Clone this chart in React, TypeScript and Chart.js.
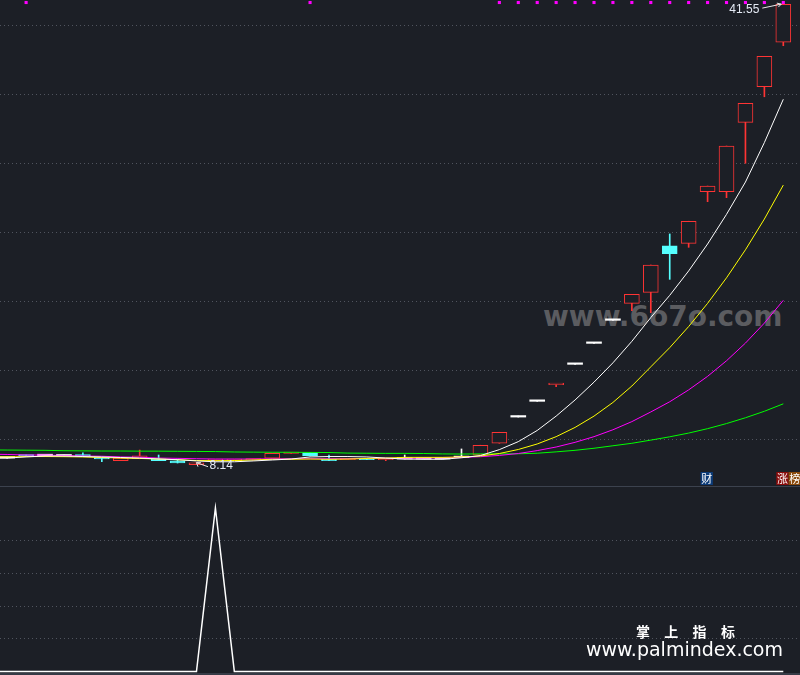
import React, { useEffect, useRef } from 'react';
import { Chart, registerables } from 'chart.js';

Chart.register(...registerables);

// ---------------- data ----------------
// bar position k (k = 0 is the session just left of the visible window)
const barIndex = [
  0, 1, 2, 3, 4, 5, 6, 7, 8, 9, 10, 11, 12, 13, 14, 15, 16, 17, 18, 19, 20,
  21, 22, 23, 24, 25, 26, 27, 28, 29, 30, 31, 32, 33, 34, 35, 36, 37, 38, 39, 40, 41, 42,
];
const openP = [
  8.65, 8.62, 8.84, 8.79, 8.77, 8.84, 8.62, 8.43, 8.57, 8.57, 8.41, 8.14, 8.44, 8.43, 8.48,
  8.62, 8.95, 9.01, 8.55, 8.5, 8.57, 8.5, 8.55, 8.55, 8.55, 8.65, 8.84, 9.69, 11.59, 12.73,
  13.94, 15.41, 16.93, 18.6, 19.83, 20.63, 23.99, 24.18, 27.92, 27.92, 32.95, 35.53, 38.75,
];
const highP = [
  8.66, 8.63, 8.84, 8.8, 8.78, 8.99, 8.62, 8.62, 9.2, 8.84, 8.55, 8.28, 8.48, 8.53, 8.55,
  8.96, 8.97, 9.01, 8.84, 8.57, 8.57, 8.57, 8.84, 8.55, 8.55, 9.28, 9.55, 10.49, 11.59, 12.73,
  13.97, 15.41, 16.93, 18.6, 20.49, 22.61, 24.86, 25.78, 28.33, 31.23, 34.33, 37.73, 41.55,
];
const lowP = [
  8.64, 8.61, 8.77, 8.78, 8.76, 8.77, 8.36, 8.43, 8.57, 8.43, 8.26, 8.14, 8.42, 8.43, 8.46,
  8.62, 8.95, 8.77, 8.43, 8.5, 8.5, 8.43, 8.55, 8.55, 8.55, 8.65, 8.84, 9.69, 11.59, 12.73,
  13.8, 15.41, 16.93, 18.6, 19.3, 19.15, 21.57, 23.89, 27.2, 27.49, 29.98, 34.8, 38.5,
];
const closeP = [
  8.65, 8.62, 8.77, 8.79, 8.77, 8.77, 8.55, 8.62, 8.79, 8.43, 8.26, 8.28, 8.46, 8.53, 8.55,
  8.96, 8.97, 8.77, 8.43, 8.57, 8.5, 8.57, 8.55, 8.55, 8.55, 8.65, 9.55, 10.49, 11.59, 12.73,
  13.97, 15.41, 16.93, 18.6, 20.49, 22.61, 23.43, 25.78, 28.33, 31.23, 34.33, 37.73, 41.5,
];
const ma5 = [
  8.62, 8.62, 8.7, 8.77, 8.77, 8.73, 8.7, 8.66, 8.62, 8.55, 8.5, 8.41, 8.35, 8.35, 8.41,
  8.48, 8.55, 8.7, 8.73, 8.73, 8.7, 8.62, 8.55, 8.53, 8.53, 8.64, 8.8, 9.23, 9.81, 10.62,
  11.66, 12.83, 14.12, 15.52, 17.08, 18.8, 20.41, 22.18, 24.13, 26.28, 28.62, 31.48, 34.62,
];
const ma10 = [
  8.7, 8.7, 8.73, 8.73, 8.72, 8.7, 8.66, 8.62, 8.59, 8.55, 8.5, 8.44, 8.43, 8.44, 8.48,
  8.53, 8.53, 8.55, 8.53, 8.55, 8.59, 8.62, 8.67, 8.67, 8.67, 8.7, 8.77, 8.95, 9.24, 9.64,
  10.17, 10.84, 11.66, 12.65, 13.84, 15.23, 16.62, 18.15, 19.83, 21.68, 23.71, 25.94, 28.4,
];
const ma20 = [
  8.9, 8.88, 8.84, 8.84, 8.8, 8.77, 8.75, 8.7, 8.68, 8.62, 8.6, 8.57, 8.55, 8.55, 8.55,
  8.57, 8.57, 8.57, 8.57, 8.57, 8.59, 8.59, 8.6, 8.62, 8.64, 8.67, 8.72, 8.81, 8.95, 9.16,
  9.42, 9.76, 10.17, 10.67, 11.26, 11.96, 12.7, 13.56, 14.54, 15.67, 16.95, 18.4, 20.05,
];
const ma60 = [
  9.21, 9.2, 9.19, 9.18, 9.15, 9.14, 9.13, 9.13, 9.12, 9.12, 9.11, 9.1, 9.09, 9.06, 9.05,
  9.04, 9.04, 9.03, 9.02, 8.98, 8.97, 8.96, 8.96, 8.95, 8.92, 8.91, 8.92, 8.92, 8.93, 8.97,
  9.07, 9.18, 9.33, 9.51, 9.69, 9.92, 10.16, 10.43, 10.75, 11.12, 11.54, 12.01, 12.55,
];
const signalBars = [2, 17, 27, 28, 29, 30, 31, 32, 33, 34, 35, 36, 37, 38, 39, 40, 41, 42];
const signalLevel = 41.63;
const indicatorValues = [
  0, 0, 0, 0, 0, 0, 0, 0, 0, 0, 0, 0, 100, 0, 0, 0, 0, 0, 0, 0, 0,
  0, 0, 0, 0, 0, 0, 0, 0, 0, 0, 0, 0, 0, 0, 0, 0, 0, 0, 0, 0, 0, 0,
];
const priceGridLevels = [10, 15, 20, 25, 30, 35, 40];
const indicatorGridLevels = [20, 40, 60, 80];
const eventBars = [38, 42];
const eventLabels = ['财', '涨榜'];

// ---------------- styles ----------------
const BG = '#1c1f26';
const RED = '#ff3434';
const CYAN = '#55ffff';
const WHITE = '#ffffff';
const GRID = '#50545e';
const X_MIN = 0.621;
const X_MAX = 42.882;
const EVENT_BG: Record<string, string> = { 财: '#0c3b78', 涨: '#8a0c0c', 榜: '#8a4a0c' };

const candleColor = closeP.map((c, k) => (c > openP[k] ? RED : c < openP[k] ? CYAN : WHITE));
const bodyFill = candleColor.map((c) => (c === RED ? BG : c));

const xy = (vals: number[]) => vals.map((v, k) => ({ x: barIndex[k], y: v }));

const zeroWidth = (s: any) => {
  s.width = 0;
};

const marksPlugin = {
  id: 'marks',
  afterDatasetsDraw(chart: any) {
    const { ctx, scales } = chart;
    const xs = scales.x;
    const ys = scales.y;
    let hiK = 1;
    let loK = 1;
    for (let k = 1; k < barIndex.length; k++) {
      if (highP[k] > highP[hiK]) hiK = k;
      if (lowP[k] < lowP[loK]) loK = k;
    }
    ctx.save();
    ctx.font = '12px "Liberation Sans", Arial, sans-serif';
    ctx.textBaseline = 'middle';
    ctx.lineWidth = 1;
    ctx.strokeStyle = '#e8e8e8';
    // highest price
    const hx = xs.getPixelForValue(barIndex[hiK]);
    const hy = ys.getPixelForValue(highP[hiK]);
    ctx.beginPath();
    ctx.moveTo(hx - 21, hy + 4.5);
    ctx.lineTo(hx - 2, hy + 0.5);
    ctx.moveTo(hx - 2, hy + 0.5);
    ctx.lineTo(hx - 6.5, hy - 0.5);
    ctx.moveTo(hx - 2, hy + 0.5);
    ctx.lineTo(hx - 5, hy + 3.5);
    ctx.stroke();
    ctx.fillStyle = '#e4eaf4';
    ctx.textAlign = 'right';
    ctx.fillText(highP[hiK].toFixed(2), hx - 24, hy + 6.5);
    // lowest price
    const lx = xs.getPixelForValue(barIndex[loK]);
    const ly = ys.getPixelForValue(lowP[loK]);
    ctx.beginPath();
    ctx.moveTo(lx + 11.5, ly + 2);
    ctx.lineTo(lx, ly - 2);
    ctx.moveTo(lx, ly - 2);
    ctx.lineTo(lx + 4.5, ly - 2);
    ctx.moveTo(lx, ly - 2);
    ctx.lineTo(lx + 1.5, ly + 2);
    ctx.stroke();
    ctx.textAlign = 'left';
    ctx.fillText(lowP[loK].toFixed(2), lx + 13, ly + 1.5);
    // event tags
    ctx.font = '11px "Noto Sans CJK SC", sans-serif';
    ctx.textAlign = 'center';
    eventBars.forEach((k, n) => {
      const cx = xs.getPixelForValue(barIndex[k]);
      const chars = Array.from(eventLabels[n]);
      chars.forEach((ch, j) => {
        const bx = cx - 7 + j * 12.3;
        ctx.fillStyle = EVENT_BG[ch] || '#0c3b78';
        ctx.fillRect(bx, 472, 12.3, 13);
        ctx.fillStyle = '#ffffff';
        ctx.fillText(ch, bx + 6.15, 478.8);
      });
    });
    ctx.restore();
  },
};

export default function App() {
  const mainRef = useRef<HTMLCanvasElement>(null);
  const subRef = useRef<HTMLCanvasElement>(null);

  useEffect(() => {
    const gridY = (min: number, max: number, levels: number[]) => ({
      min,
      max,
      position: 'left' as const,
      afterFit: zeroWidth,
      afterBuildTicks: (s: any) => {
        s.ticks = levels.map((v) => ({ value: v }));
      },
      ticks: { display: false },
      grid: { color: GRID, lineWidth: 1, drawTicks: false },
      border: { display: false, dash: [1, 3] },
    });
    const xScale = { type: 'linear' as const, min: X_MIN, max: X_MAX, display: false, offset: false };

    const main = new Chart(mainRef.current as HTMLCanvasElement, {
      type: 'bar',
      data: {
        datasets: [
          { type: 'line', label: 'MA5', data: xy(ma5), borderColor: '#ffffff', borderWidth: 1, pointRadius: 0, tension: 0, order: 0 },
          { type: 'line', label: 'MA10', data: xy(ma10), borderColor: '#ffff00', borderWidth: 1, pointRadius: 0, tension: 0, order: 0 },
          { type: 'line', label: 'MA20', data: xy(ma20), borderColor: '#ff00ff', borderWidth: 1, pointRadius: 0, tension: 0, order: 0 },
          { type: 'line', label: 'MA60', data: xy(ma60), borderColor: '#00ff00', borderWidth: 1, pointRadius: 0, tension: 0, order: 0 },
          {
            type: 'line',
            label: 'signal',
            data: signalBars.map((k) => ({ x: k, y: signalLevel })),
            showLine: false,
            pointStyle: 'rect',
            pointRadius: 2.2,
            pointBackgroundColor: '#ff00ff',
            pointBorderWidth: 0,
            order: 0,
          },
          {
            type: 'bar',
            label: 'body',
            data: barIndex.map((k) => ({ x: k, y: [openP[k], closeP[k]] })) as any,
            backgroundColor: bodyFill,
            borderColor: candleColor,
            borderWidth: candleColor.map((c) => (c === WHITE ? 0 : 1)),
            borderSkipped: false,
            barThickness: 15,
            minBarLength: 1.5,
            grouped: false,
            order: 1,
          },
          {
            type: 'bar',
            label: 'wick',
            data: barIndex.map((k) => ({ x: k, y: [lowP[k], highP[k]] })) as any,
            backgroundColor: candleColor,
            borderWidth: 0,
            barThickness: 1,
            minBarLength: 1,
            grouped: false,
            order: 2,
          },
        ] as any,
      },
      options: {
        responsive: false,
        animation: false,
        events: [],
        layout: { padding: 0, autoPadding: false },
        plugins: { legend: { display: false }, tooltip: { enabled: false } },
        scales: {
          x: xScale,
          y: gridY(6.595, 41.812, priceGridLevels),
        },
      } as any,
      plugins: [marksPlugin],
    });

    const sub = new Chart(subRef.current as HTMLCanvasElement, {
      type: 'line',
      data: {
        datasets: [
          {
            label: 'signal',
            data: xy(indicatorValues),
            borderColor: '#ffffff',
            borderWidth: 1.5,
            pointRadius: 0,
            tension: 0,
          },
        ],
      },
      options: {
        responsive: false,
        animation: false,
        events: [],
        layout: { padding: 0, autoPadding: false },
        plugins: { legend: { display: false }, tooltip: { enabled: false } },
        scales: {
          x: xScale,
          y: gridY(-2.14, 112.84, indicatorGridLevels),
        },
      } as any,
    });

    return () => {
      main.destroy();
      sub.destroy();
    };
  }, []);

  return (
    <div
      style={{
        position: 'absolute',
        left: 0,
        top: 0,
        width: 800,
        height: 675,
        background: BG,
        overflow: 'hidden',
      }}
    >
      <div
        style={{
          position: 'absolute',
          left: 543,
          top: 303,
          font: 'bold 28px "DejaVu Sans", sans-serif',
          lineHeight: '28px',
          color: '#5b5c60',
          whiteSpace: 'nowrap',
        }}
      >
        www.6o7o.com
      </div>
      <canvas
        ref={mainRef}
        width={800}
        height={486}
        style={{ position: 'absolute', left: 0, top: 0, width: 800, height: 486, display: 'block' }}
      />
      <div style={{ position: 'absolute', left: 0, top: 486, width: 800, height: 1, background: '#3c424e' }} />
      <canvas
        ref={subRef}
        width={800}
        height={188}
        style={{ position: 'absolute', left: 0, top: 487, width: 800, height: 188, display: 'block' }}
      />
      <div style={{ position: 'absolute', left: 0, top: 673, width: 800, height: 2, background: '#363b46' }} />
      <div
        style={{
          position: 'absolute',
          left: 636,
          top: 624,
          font: 'bold 14px "Noto Sans CJK SC", sans-serif',
          lineHeight: '14px',
          letterSpacing: '14.3px',
          color: '#ffffff',
          whiteSpace: 'nowrap',
        }}
      >
        掌上指标
      </div>
      <div
        style={{
          position: 'absolute',
          left: 586,
          top: 640,
          font: '19px "DejaVu Sans", sans-serif',
          lineHeight: '19px',
          color: '#ffffff',
          whiteSpace: 'nowrap',
        }}
      >
        www.palmindex.com
      </div>
    </div>
  );
}
